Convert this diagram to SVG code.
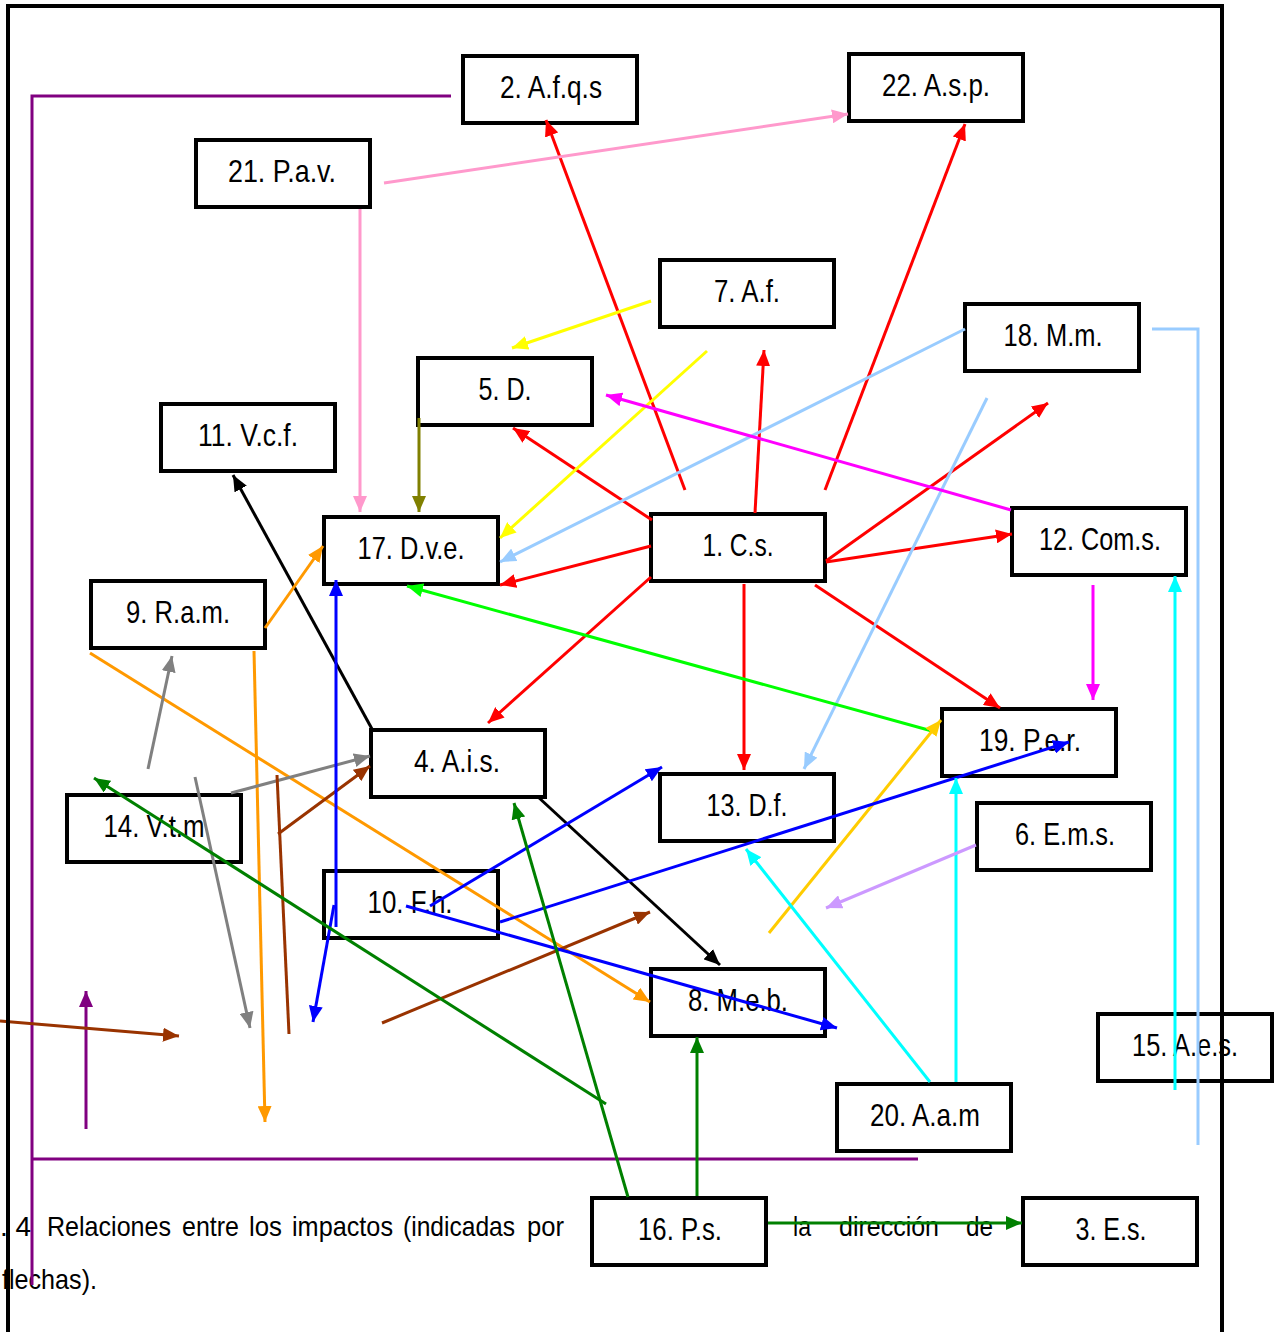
<svg xmlns="http://www.w3.org/2000/svg" width="1285" height="1332" viewBox="0 0 1285 1332">
<style>
.box rect{fill:#fff;stroke:#000;stroke-width:4}
.box text,.cap{font-family:"Liberation Sans Narrow","Liberation Sans",Arial,sans-serif;font-size:32px;fill:#000;text-anchor:middle}
.cap{text-anchor:start;font-size:28px}
.c line,.c polyline,.c path{fill:none;stroke-width:3}
</style>
<defs>
<marker id="m-red" markerUnits="userSpaceOnUse" markerWidth="16" markerHeight="14" refX="16" refY="7" orient="auto"><path d="M0,0 L16,7 L0,14 z" fill="#FF0000"/></marker>
<marker id="m-pink" markerUnits="userSpaceOnUse" markerWidth="16" markerHeight="14" refX="16" refY="7" orient="auto"><path d="M0,0 L16,7 L0,14 z" fill="#FF99CC"/></marker>
<marker id="m-yellow" markerUnits="userSpaceOnUse" markerWidth="16" markerHeight="14" refX="16" refY="7" orient="auto"><path d="M0,0 L16,7 L0,14 z" fill="#FFFF00"/></marker>
<marker id="m-lblue" markerUnits="userSpaceOnUse" markerWidth="16" markerHeight="14" refX="16" refY="7" orient="auto"><path d="M0,0 L16,7 L0,14 z" fill="#99CCFF"/></marker>
<marker id="m-magenta" markerUnits="userSpaceOnUse" markerWidth="16" markerHeight="14" refX="16" refY="7" orient="auto"><path d="M0,0 L16,7 L0,14 z" fill="#FF00FF"/></marker>
<marker id="m-olive" markerUnits="userSpaceOnUse" markerWidth="16" markerHeight="14" refX="16" refY="7" orient="auto"><path d="M0,0 L16,7 L0,14 z" fill="#808000"/></marker>
<marker id="m-black" markerUnits="userSpaceOnUse" markerWidth="16" markerHeight="14" refX="16" refY="7" orient="auto"><path d="M0,0 L16,7 L0,14 z" fill="#000000"/></marker>
<marker id="m-lime" markerUnits="userSpaceOnUse" markerWidth="16" markerHeight="14" refX="16" refY="7" orient="auto"><path d="M0,0 L16,7 L0,14 z" fill="#00FF00"/></marker>
<marker id="m-orange" markerUnits="userSpaceOnUse" markerWidth="16" markerHeight="14" refX="16" refY="7" orient="auto"><path d="M0,0 L16,7 L0,14 z" fill="#FF9900"/></marker>
<marker id="m-gold" markerUnits="userSpaceOnUse" markerWidth="16" markerHeight="14" refX="16" refY="7" orient="auto"><path d="M0,0 L16,7 L0,14 z" fill="#FFCC00"/></marker>
<marker id="m-gray" markerUnits="userSpaceOnUse" markerWidth="16" markerHeight="14" refX="16" refY="7" orient="auto"><path d="M0,0 L16,7 L0,14 z" fill="#808080"/></marker>
<marker id="m-brown" markerUnits="userSpaceOnUse" markerWidth="16" markerHeight="14" refX="16" refY="7" orient="auto"><path d="M0,0 L16,7 L0,14 z" fill="#993300"/></marker>
<marker id="m-blue" markerUnits="userSpaceOnUse" markerWidth="16" markerHeight="14" refX="16" refY="7" orient="auto"><path d="M0,0 L16,7 L0,14 z" fill="#0000FF"/></marker>
<marker id="m-green" markerUnits="userSpaceOnUse" markerWidth="16" markerHeight="14" refX="16" refY="7" orient="auto"><path d="M0,0 L16,7 L0,14 z" fill="#008000"/></marker>
<marker id="m-cyan" markerUnits="userSpaceOnUse" markerWidth="16" markerHeight="14" refX="16" refY="7" orient="auto"><path d="M0,0 L16,7 L0,14 z" fill="#00FFFF"/></marker>
<marker id="m-lav" markerUnits="userSpaceOnUse" markerWidth="16" markerHeight="14" refX="16" refY="7" orient="auto"><path d="M0,0 L16,7 L0,14 z" fill="#CC99FF"/></marker>
<marker id="m-purple" markerUnits="userSpaceOnUse" markerWidth="16" markerHeight="14" refX="16" refY="7" orient="auto"><path d="M0,0 L16,7 L0,14 z" fill="#800080"/></marker>
</defs>
<rect width="1285" height="1332" fill="#fff"/>

<g id="caption">
<text class="cap" x="0" y="1236">. 4</text>
<text class="cap" x="47" y="1236" textLength="124" lengthAdjust="spacingAndGlyphs">Relaciones</text>
<text class="cap" x="182" y="1236" textLength="57" lengthAdjust="spacingAndGlyphs">entre</text>
<text class="cap" x="249" y="1236" textLength="33" lengthAdjust="spacingAndGlyphs">los</text>
<text class="cap" x="292" y="1236" textLength="101" lengthAdjust="spacingAndGlyphs">impactos</text>
<text class="cap" x="403" y="1236" textLength="112" lengthAdjust="spacingAndGlyphs">(indicadas</text>
<text class="cap" x="527" y="1236" textLength="37" lengthAdjust="spacingAndGlyphs">por</text>
<text class="cap" x="793" y="1236" textLength="18" lengthAdjust="spacingAndGlyphs">la</text>
<text class="cap" x="839" y="1236" textLength="100" lengthAdjust="spacingAndGlyphs">dirección</text>
<text class="cap" x="966" y="1236" textLength="27" lengthAdjust="spacingAndGlyphs">de</text>
<text class="cap" x="2" y="1289" textLength="95" lengthAdjust="spacingAndGlyphs">flechas).</text>
</g>

<g id="nodes">
<g id="n1" class="box"><rect x="651" y="514" width="174" height="67"/><text x="738" y="556" textLength="71" lengthAdjust="spacingAndGlyphs">1. C.s.</text></g>
<g id="n2" class="box"><rect x="463" y="56" width="174" height="67"/><text x="551" y="98" textLength="102" lengthAdjust="spacingAndGlyphs">2. A.f.q.s</text></g>
<g id="n3" class="box"><rect x="1023" y="1198" width="174" height="67"/><text x="1111" y="1240" textLength="71" lengthAdjust="spacingAndGlyphs">3. E.s.</text></g>
<g id="n4" class="box"><rect x="371" y="730" width="174" height="67"/><text x="457" y="772" textLength="86" lengthAdjust="spacingAndGlyphs">4. A.i.s.</text></g>
<g id="n5" class="box"><rect x="418" y="358" width="174" height="67"/><text x="505" y="400" textLength="53" lengthAdjust="spacingAndGlyphs">5. D.</text></g>
<g id="n6" class="box"><rect x="977" y="803" width="174" height="67"/><text x="1065" y="845" textLength="100" lengthAdjust="spacingAndGlyphs">6. E.m.s.</text></g>
<g id="n7" class="box"><rect x="660" y="260" width="174" height="67"/><text x="747" y="302" textLength="66" lengthAdjust="spacingAndGlyphs">7. A.f.</text></g>
<g id="n8" class="box"><rect x="651" y="969" width="174" height="67"/><text x="738" y="1011" textLength="100" lengthAdjust="spacingAndGlyphs">8. M.e.b.</text></g>
<g id="n9" class="box"><rect x="91" y="581" width="174" height="67"/><text x="178" y="623" textLength="104" lengthAdjust="spacingAndGlyphs">9. R.a.m.</text></g>
<g id="n10" class="box"><rect x="324" y="871" width="174" height="67"/><text x="410" y="913" textLength="85" lengthAdjust="spacingAndGlyphs">10. F.h.</text></g>
<g id="n11" class="box"><rect x="161" y="404" width="174" height="67"/><text x="248" y="446" textLength="100" lengthAdjust="spacingAndGlyphs">11. V.c.f.</text></g>
<g id="n12" class="box"><rect x="1012" y="508" width="174" height="67"/><text x="1100" y="550" textLength="122" lengthAdjust="spacingAndGlyphs">12. Com.s.</text></g>
<g id="n13" class="box"><rect x="660" y="774" width="174" height="67"/><text x="747" y="816" textLength="81" lengthAdjust="spacingAndGlyphs">13. D.f.</text></g>
<g id="n14" class="box"><rect x="67" y="795" width="174" height="67"/><text x="154" y="837" textLength="101" lengthAdjust="spacingAndGlyphs">14. V.t.m</text></g>
<g id="n15" class="box"><rect x="1098" y="1014" width="174" height="67"/><text x="1185" y="1056" textLength="106" lengthAdjust="spacingAndGlyphs">15. A.e.s.</text></g>
<g id="n16" class="box"><rect x="592" y="1198" width="174" height="67"/><text x="680" y="1240" textLength="84" lengthAdjust="spacingAndGlyphs">16. P.s.</text></g>
<g id="n17" class="box"><rect x="324" y="517" width="174" height="67"/><text x="411" y="559" textLength="107" lengthAdjust="spacingAndGlyphs">17. D.v.e.</text></g>
<g id="n18" class="box"><rect x="965" y="304" width="174" height="67"/><text x="1053" y="346" textLength="99" lengthAdjust="spacingAndGlyphs">18. M.m.</text></g>
<g id="n19" class="box"><rect x="942" y="709" width="174" height="67"/><text x="1030" y="751" textLength="102" lengthAdjust="spacingAndGlyphs">19. P.e.r.</text></g>
<g id="n20" class="box"><rect x="837" y="1084" width="174" height="67"/><text x="925" y="1126" textLength="110" lengthAdjust="spacingAndGlyphs">20. A.a.m</text></g>
<g id="n21" class="box"><rect x="196" y="140" width="174" height="67"/><text x="282" y="182" textLength="108" lengthAdjust="spacingAndGlyphs">21. P.a.v.</text></g>
<g id="n22" class="box"><rect x="849" y="54" width="174" height="67"/><text x="936" y="96" textLength="108" lengthAdjust="spacingAndGlyphs">22. A.s.p.</text></g>
</g>

<g id="connectors" class="c">
<!-- purple -->
<polyline points="451,96 32,96 32,1285" stroke="#800080" stroke-width="4"/>
<line x1="32" y1="1159" x2="918" y2="1159" stroke="#800080" stroke-width="4"/>
<line x1="86" y1="1129" x2="86" y2="991" stroke="#800080" marker-end="url(#m-purple)"/>
<!-- red from 1 -->
<g stroke="#FF0000">
<line x1="685" y1="490" x2="546" y2="120" marker-end="url(#m-red)"/>
<line x1="825" y1="490" x2="965" y2="124" marker-end="url(#m-red)"/>
<line x1="755" y1="513" x2="764" y2="350" marker-end="url(#m-red)"/>
<line x1="652" y1="520" x2="513" y2="428" marker-end="url(#m-red)"/>
<line x1="651" y1="546" x2="500" y2="585" marker-end="url(#m-red)"/>
<line x1="651" y1="577" x2="488" y2="723" marker-end="url(#m-red)"/>
<line x1="744" y1="584" x2="744" y2="770" marker-end="url(#m-red)"/>
<line x1="815" y1="585" x2="1000" y2="708" marker-end="url(#m-red)"/>
<line x1="826" y1="562" x2="1012" y2="534" marker-end="url(#m-red)"/>
<line x1="826" y1="561" x2="1048" y2="403" marker-end="url(#m-red)"/>
</g>
<!-- pink -->
<line x1="384" y1="183" x2="848" y2="114" stroke="#FF99CC" stroke-width="4" marker-end="url(#m-pink)"/>
<line x1="360" y1="209" x2="360" y2="512" stroke="#FF99CC" marker-end="url(#m-pink)"/>
<!-- yellow -->
<line x1="651" y1="301" x2="512" y2="348" stroke="#FFFF00" marker-end="url(#m-yellow)"/>
<line x1="707" y1="351" x2="500" y2="538" stroke="#FFFF00" marker-end="url(#m-yellow)"/>
<!-- light blue -->
<line x1="965" y1="329" x2="500" y2="562" stroke="#99CCFF" stroke-width="4" marker-end="url(#m-lblue)"/>
<line x1="987" y1="398" x2="804" y2="769" stroke="#99CCFF" stroke-width="3" marker-end="url(#m-lblue)"/>
<polyline points="1152,329 1198,329 1198,1145" stroke="#99CCFF" stroke-width="4"/>
<!-- magenta -->
<line x1="1011" y1="510" x2="606" y2="395" stroke="#FF00FF" marker-end="url(#m-magenta)"/>
<line x1="1093" y1="585" x2="1093" y2="700" stroke="#FF00FF" marker-end="url(#m-magenta)"/>
<!-- olive -->
<line x1="419" y1="418" x2="419" y2="512" stroke="#808000" marker-end="url(#m-olive)"/>
<!-- black -->
<line x1="372" y1="729" x2="233" y2="475" stroke="#000000" marker-end="url(#m-black)"/>
<line x1="537" y1="796" x2="720" y2="965" stroke="#000000" marker-end="url(#m-black)"/>
<!-- lime -->
<line x1="932" y1="731" x2="407" y2="586" stroke="#00FF00" marker-end="url(#m-lime)"/>
<!-- orange -->
<line x1="265" y1="628" x2="323" y2="546" stroke="#FF9900" marker-end="url(#m-orange)"/>
<line x1="90" y1="653" x2="650" y2="1002" stroke="#FF9900" marker-end="url(#m-orange)"/>
<line x1="254" y1="651" x2="265" y2="1122" stroke="#FF9900" marker-end="url(#m-orange)"/>
<!-- gold -->
<line x1="769" y1="933" x2="941" y2="720" stroke="#FFCC00" marker-end="url(#m-gold)"/>
<!-- gray -->
<line x1="148" y1="769" x2="172" y2="656" stroke="#808080" marker-end="url(#m-gray)"/>
<line x1="231" y1="793" x2="370" y2="756" stroke="#808080" marker-end="url(#m-gray)"/>
<line x1="195" y1="777" x2="250" y2="1028" stroke="#808080" marker-end="url(#m-gray)"/>
<!-- brown -->
<line x1="278" y1="834" x2="370" y2="766" stroke="#993300" marker-end="url(#m-brown)"/>
<line x1="277" y1="775" x2="289" y2="1034" stroke="#993300"/>
<line x1="0" y1="1021" x2="179" y2="1036" stroke="#993300" marker-end="url(#m-brown)"/>
<line x1="382" y1="1023" x2="650" y2="912" stroke="#993300" marker-end="url(#m-brown)"/>
<!-- blue -->
<g stroke="#0000FF">
<line x1="336" y1="927" x2="336" y2="580" marker-end="url(#m-blue)"/>
<line x1="334" y1="905" x2="313" y2="1022" marker-end="url(#m-blue)"/>
<line x1="430" y1="906" x2="662" y2="767" stroke-width="4" marker-end="url(#m-blue)"/>
<line x1="500" y1="922" x2="1069" y2="742" stroke-width="4" marker-end="url(#m-blue)"/>
<line x1="406" y1="906" x2="837" y2="1028" stroke-width="4" marker-end="url(#m-blue)"/>
</g>
<!-- dark green -->
<g stroke="#008000">
<line x1="606" y1="1104" x2="94" y2="778" marker-end="url(#m-green)"/>
<line x1="628" y1="1197" x2="514" y2="803" marker-end="url(#m-green)"/>
<line x1="697" y1="1196" x2="697" y2="1037" marker-end="url(#m-green)"/>
<line x1="768" y1="1223" x2="1022" y2="1223" stroke-width="4" marker-end="url(#m-green)"/>
</g>
<!-- cyan -->
<line x1="930" y1="1082" x2="746" y2="849" stroke="#00FFFF" marker-end="url(#m-cyan)"/>
<line x1="956" y1="1082" x2="956" y2="778" stroke="#00FFFF" marker-end="url(#m-cyan)"/>
<line x1="1175" y1="1090" x2="1175" y2="576" stroke="#00FFFF" marker-end="url(#m-cyan)"/>
<!-- lavender -->
<line x1="976" y1="845" x2="826" y2="908" stroke="#CC99FF" marker-end="url(#m-lav)"/>
</g>

<g id="frame">
<polyline points="8,1332 8,6 1222,6 1222,1332" fill="none" stroke="#000" stroke-width="4"/>
</g>
</svg>
